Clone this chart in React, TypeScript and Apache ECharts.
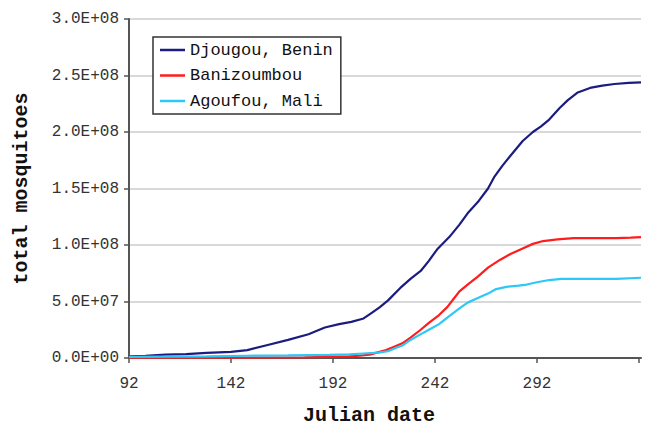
import React, { useEffect, useRef } from "react";
import * as echarts from "echarts";

// Cumulative totals (Julian day, mosquitoes in millions)
const djougouDays = [92, 100, 110, 120, 130, 142, 150, 160, 170, 180, 188, 195, 201, 207, 211, 215, 219, 225, 230, 235, 239, 243, 249, 254, 258, 263, 268, 271, 275, 279, 285, 290, 294, 298, 303, 307, 312, 318, 324, 330, 337, 343];
const djougouValues = [1.5, 2, 3, 3.5, 4.5, 5.5, 7, 11.5, 16, 21, 27, 30, 32, 35, 40, 45, 51, 62, 70, 77, 86, 96, 107, 118, 128, 138, 150, 160, 170, 179, 192, 200, 205, 211, 221, 228, 235, 239, 241, 242.5, 243.5, 244];

const banizoumbouDays = [92, 120, 146, 178, 190, 200, 205, 210, 214, 218, 222, 226, 230, 235, 239, 244, 248, 251, 254, 258, 263, 268, 274, 279, 285, 290, 295, 302, 310, 320, 331, 338, 343];
const banizoumbouValues = [0.3, 0.3, 0.2, 0.5, 1, 1.5, 2, 3, 5, 7, 10, 13, 18, 25, 31, 38, 45, 52, 59, 65, 72, 80, 87, 92, 97, 101, 103.5, 105, 106, 106, 106, 106.5, 107];

const agoufouDays = [92, 110, 130, 150, 170, 190, 200, 207, 212, 215, 219, 223, 226, 230, 234, 239, 244, 249, 254, 258, 263, 268, 272, 277, 283, 287, 292, 298, 304, 315, 331, 343];
const agoufouValues = [1, 1.2, 1.5, 2, 2.3, 2.8, 3.2, 4, 4.5, 5, 6, 9, 11, 16, 20, 25, 30, 37, 44, 49, 53, 57, 61, 63, 64, 65, 67, 69, 70, 70, 70, 71];

const seriesNames = ["Djougou, Benin", "Banizoumbou", "Agoufou, Mali"];
const seriesColors = ["#1c1c80", "#ff1c1c", "#2cc8f8"];

const MILLION = 1e6;
const LAST_DAY_LABEL = 292;

const toPairs = (days: number[], values: number[]) =>
  days.map((d, i) => [d, values[i] * MILLION]);

// Scientific label such as 2.5E+08
const sci = (v: number) => {
  if (v === 0) return "0.0E+00";
  const exp = Math.floor(Math.log10(Math.abs(v)));
  const mant = v / Math.pow(10, exp);
  const sign = exp < 0 ? "-" : "+";
  return `${mant.toFixed(1)}E${sign}${String(Math.abs(exp)).padStart(2, "0")}`;
};

const MONO = "'Liberation Mono', 'DejaVu Sans Mono', monospace";

export default function App() {
  const ref = useRef<HTMLDivElement>(null);

  useEffect(() => {
    if (!ref.current) return;
    const chart = echarts.init(ref.current, undefined, { renderer: "svg" });
    const data = [
      toPairs(djougouDays, djougouValues),
      toPairs(banizoumbouDays, banizoumbouValues),
      toPairs(agoufouDays, agoufouValues),
    ];
    chart.setOption({
      animation: false,
      backgroundColor: "#ffffff",
      grid: { left: 129, right: 4, top: 19, bottom: 68, outerBoundsMode: "none", containLabel: false },
      legend: {
        orient: "vertical",
        left: 153,
        top: 37,
        data: seriesNames,
        icon: "rect",
        borderColor: "#333",
        borderWidth: 1.5,
        backgroundColor: "#fff",
        padding: [4, 8, 4, 7],
        itemWidth: 25,
        itemHeight: 2.5,
        itemGap: 7.5,
        textStyle: { fontFamily: MONO, fontSize: 17, lineHeight: 18, color: "#111" },
      },
      xAxis: {
        type: "value",
        min: 92,
        max: 343,
        interval: 50,
        name: "Julian date",
        nameLocation: "middle",
        nameGap: 47,
        nameTextStyle: {
          fontFamily: MONO,
          fontSize: 20,
          fontWeight: "bold",
          color: "#111",
          padding: [0, 32, 0, 0],
        },
        axisLine: { lineStyle: { color: "#555", width: 2 } },
        axisTick: { show: true, length: 5, lineStyle: { color: "#555", width: 1.5 } },
        axisLabel: {
          formatter: (v: number) => (v <= LAST_DAY_LABEL ? String(v) : ""),
          showMaxLabel: false,
          margin: 18,
          fontFamily: MONO,
          fontSize: 16,
          color: "#333",
        },
        splitLine: { show: false },
      },
      yAxis: {
        type: "value",
        min: 0,
        max: 3e8,
        interval: 5e7,
        name: "total mosquitoes",
        nameLocation: "middle",
        nameGap: 98,
        nameRotate: 90,
        nameTextStyle: { fontFamily: MONO, fontSize: 20, fontWeight: "bold", color: "#111" },
        axisLine: { show: true, lineStyle: { color: "#555", width: 2 } },
        axisTick: { show: true, length: 5, lineStyle: { color: "#555", width: 1.5 } },
        axisLabel: {
          formatter: (v: number) => sci(v),
          margin: 10,
          fontFamily: MONO,
          fontSize: 16,
          color: "#333",
        },
        splitLine: { show: true, lineStyle: { color: "#cccccc", width: 1.5 } },
      },
      series: seriesNames.map((name, i) => ({
        name,
        type: "line",
        data: data[i],
        symbol: "none",
        smooth: false,
        lineStyle: { color: seriesColors[i], width: 2.2 },
        itemStyle: { color: seriesColors[i] },
      })),
    });
    return () => chart.dispose();
  }, []);

  return <div ref={ref} style={{ width: 645, height: 426, position: "absolute", left: 0, top: 0 }} />;
}
